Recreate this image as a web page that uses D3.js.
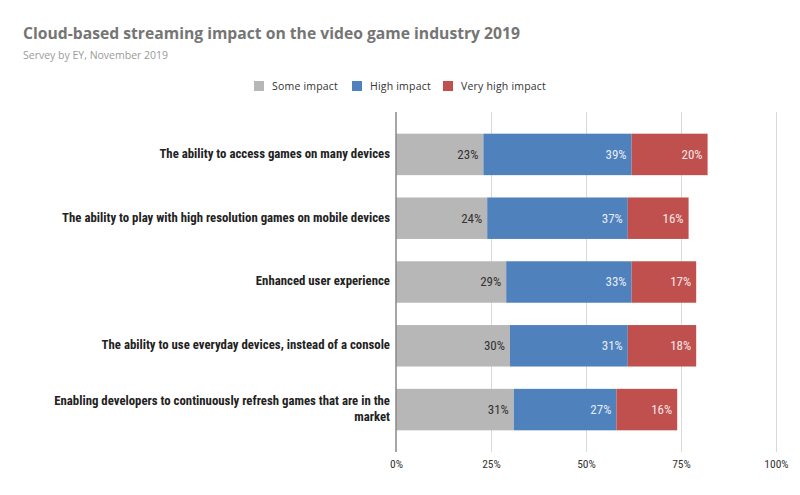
<!DOCTYPE html>
<html><head><meta charset="utf-8">
<script src="https://cdn.jsdelivr.net/npm/d3@7"></script>
<style>
body{margin:0;background:#fff;}
svg{display:block;}
.cond{font-family:"Liberation Sans Narrow","Arial Narrow","Roboto Condensed",Lato,sans-serif;}
</style></head>
<body><svg id="c" width="800" height="495"></svg>
<script>
const categories = [
  "The ability to access games on many devices",
  "The ability to play with high resolution games on mobile devices",
  "Enhanced user experience",
  "The ability to use everyday devices, instead of a console",
  "Enabling developers to continuously refresh games that are in the market"
];
const seriesNames = ["Some impact","High impact","Very high impact"];
const someImpact = [23,24,29,30,31];
const highImpact = [39,37,33,31,27];
const veryHighImpact = [20,16,17,18,16];
const tickValues = [0,25,50,75,100];
const tickLabels = ["0%","25%","50%","75%","100%"];
const colors = ["#b7b7b7","#4f81bd","#c0504d"];
const labelColors = ["#333333","#e6ecf5","#f5e6e6"];

const svg = d3.select("#c");
const W=800,H=495;
const m={top:112,right:24,bottom:43,left:396};
const iw=W-m.left-m.right, ih=H-m.top-m.bottom;

const rows = categories.map((c,i)=>({cat:c, s0:someImpact[i], s1:highImpact[i], s2:veryHighImpact[i]}));
const keys=["s0","s1","s2"];
const stacked = d3.stack().keys(keys)(rows);

const x=d3.scaleLinear().domain([0,100]).range([0,iw]);
const y=d3.scaleBand().domain(categories).range([0,ih]).paddingInner(0.35).paddingOuter(0.34);

// title
svg.append("text").attr("x",23).attr("y",39).attr("fill","#757575")
  .attr("font-family","'Open Sans',sans-serif").attr("font-weight","bold").attr("font-size",15.7)
  .text("Cloud-based streaming impact on the video game industry 2019");
svg.append("text").attr("x",23).attr("y",59).attr("fill","#9a9a9a")
  .attr("font-family","'Open Sans',sans-serif").attr("font-size",10.5)
  .text("Servey by EY, November 2019");

// legend
const legX=[254,352,443];
const lg=svg.append("g");
seriesNames.forEach((n,i)=>{
  lg.append("rect").attr("x",legX[i]).attr("y",81).attr("width",10).attr("height",10).attr("fill",colors[i]);
  lg.append("text").attr("x",legX[i]+18).attr("y",89.5).attr("fill","#333").attr("font-size",10.5)
    .attr("font-family","'Open Sans',sans-serif").attr("letter-spacing",0.2).text(n);
});

const g=svg.append("g").attr("transform",`translate(${m.left},${m.top})`);

// gridlines
g.selectAll("line.grid").data(tickValues.slice(1)).join("line")
  .attr("x1",d=>x(d)+0.5).attr("x2",d=>x(d)+0.5).attr("y1",0).attr("y2",ih)
  .attr("stroke","#d9d9d9").attr("stroke-width",1);

// bars
const layer=g.selectAll("g.layer").data(stacked).join("g").attr("fill",(d,i)=>colors[i]);
layer.selectAll("rect").data(d=>d).join("rect")
  .attr("x",d=>x(d[0])).attr("width",d=>x(d[1])-x(d[0]))
  .attr("y",d=>y(d.data.cat)).attr("height",y.bandwidth());

// data labels
stacked.forEach((s,i)=>{
  g.selectAll(null).data(s).join("text")
    .attr("class","cond")
    .attr("x",d=>x(d[1])-5).attr("y",d=>y(d.data.cat)+y.bandwidth()/2+1)
    .attr("text-anchor","end").attr("dominant-baseline","middle")
    .attr("font-size",13).attr("fill",labelColors[i])
    .text(d=>(d[1]-d[0])+"%");
});

// axis line
g.append("line").attr("x1",0).attr("x2",0).attr("y1",0).attr("y2",ih).attr("stroke","#888").attr("stroke-width",1.5);

// y labels
const yl=g.append("g");
categories.forEach((c,i)=>{
  const t=yl.append("text").attr("class","cond").attr("text-anchor","end")
    .attr("font-weight","bold").attr("font-size",12.8).attr("fill","#222");
  const cy=y(c)+y.bandwidth()/2;
  if(i===4){
    t.append("tspan").attr("x",-6).attr("y",cy-8.3).attr("dominant-baseline","middle").text("Enabling developers to continuously refresh games that are in the");
    t.append("tspan").attr("x",-6).attr("y",cy+8.3).attr("dominant-baseline","middle").text("market");
  } else {
    t.attr("x",-6).attr("y",cy).attr("dominant-baseline","middle").text(c);
  }
});

// x axis
const xa=d3.axisBottom(x).tickValues(tickValues).tickFormat((d,i)=>tickLabels[i]).tickSize(0).tickPadding(8);
const ax=g.append("g").attr("transform",`translate(0,${ih})`).call(xa);
ax.select(".domain").remove();
ax.selectAll("text").attr("class","cond").attr("font-size",11.5).attr("fill","#333");
</script></body></html>
